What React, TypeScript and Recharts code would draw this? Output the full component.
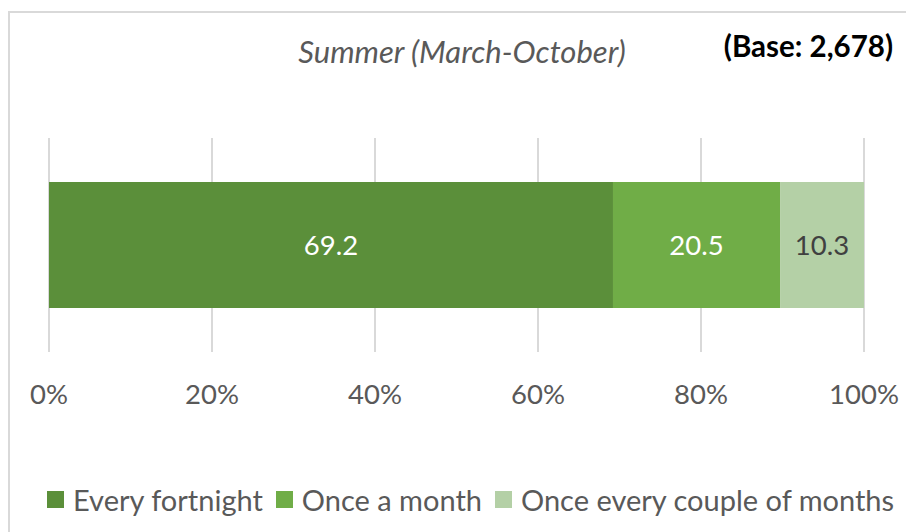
import React from 'react';
import {BarChart, Bar, XAxis, YAxis, CartesianGrid, Legend, LabelList} from 'recharts';

const categories = ['Summer'];
const everyFortnight = [69.2];
const onceAMonth = [20.5];
const onceCouple = [10.3];
const xTicks = [0, 20, 40, 60, 80, 100];

const series = [
     {key: 'fortnight', name: 'Every fortnight', values: everyFortnight, color: '#5B8F3A', label: '#FFFFFF'},
     {key: 'month', name: 'Once a month', values: onceAMonth, color: '#70AD47', label: '#FFFFFF'},
     {key: 'couple', name: 'Once every couple of months', values: onceCouple, color: '#B4D0A6', label: '#404040'},
];

const data = categories.map((name, i) => {
     const row: any = {name};
     series.forEach(s => {
          row[s.key] = s.values[i];
     });
     return row;
});

const FONT = 'Lato, "Open Sans", sans-serif';
const TEXT = '#595959';

const LegendContent = () => (
     <div style={{display: 'flex', alignItems: 'center', fontFamily: FONT, fontSize: 29, color: TEXT, whiteSpace: 'nowrap'}}>
          {series.map(s => (
               <div key={s.key} style={{display: 'flex', alignItems: 'center', marginRight: 13}}>
                    <span style={{display: 'inline-block', width: 17, height: 17, background: s.color, marginRight: 9}} />
                    <span>{s.name}</span>
               </div>
          ))}
     </div>
);

export default function App() {
     return (
          <div style={{position: 'absolute', left: 0, top: 0, width: 906, height: 532, overflow: 'hidden', background: '#fff'}}>
               <div style={{position: 'absolute', left: 8, top: 11, width: 2000, height: 2000, border: '2px solid #D9D9D9'}} />
               <div style={{position: 'absolute', left: 262, width: 400, top: 32, textAlign: 'center', fontFamily: FONT, fontStyle: 'italic', fontSize: 31, color: TEXT}}>
                    Summer (March-October)
               </div>
               <div style={{position: 'absolute', right: 13, top: 28, fontFamily: FONT, fontWeight: 'bold', fontSize: 29.5, color: '#000'}}>
                    (Base: 2,678)
               </div>
               <BarChart
                    width={906}
                    height={532}
                    data={data}
                    layout="vertical"
                    margin={{top: 138, right: 42, left: 49, bottom: 76}}
               >
                    <CartesianGrid horizontal={false} stroke="#D9D9D9" strokeWidth={2} />
                    <XAxis
                         type="number"
                         domain={[0, 100]}
                         ticks={xTicks}
                         tickFormatter={(v: number) => `${v}%`}
                         axisLine={false}
                         tickLine={false}
                         tickSize={0}
                         tickMargin={32}
                         height={70}
                         tick={{fill: TEXT, fontSize: 27.5, fontFamily: FONT}}
                         interval={0}
                    />
                    <YAxis type="category" dataKey="name" hide />
                    <Legend
                         verticalAlign="bottom"
                         align="left"
                         content={<LegendContent />}
                         wrapperStyle={{position: 'absolute', left: 47, top: 482, width: 900, height: 34}}
                    />
                    {series.map(s => (
                         <Bar key={s.key} dataKey={s.key} name={s.name} stackId="a" fill={s.color} barSize={126} isAnimationActive={false}>
                              <LabelList dataKey={s.key} position="center" fill={s.label} fontSize={27.5} fontFamily={FONT} />
                         </Bar>
                    ))}
               </BarChart>
          </div>
     );
}
